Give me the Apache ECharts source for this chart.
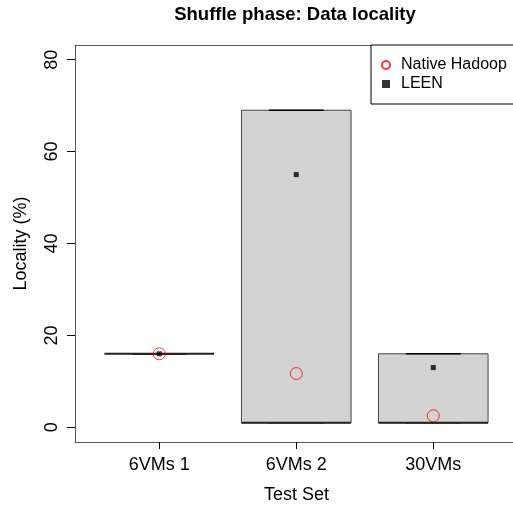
<!DOCTYPE html>
<html>
<head>
<meta charset="utf-8">
<script src="https://cdn.jsdelivr.net/npm/echarts@6/dist/echarts.min.js"></script>
<style>html,body{margin:0;padding:0;background:#fff}#c{width:513px;height:509px}</style>
</head>
<body>
<div id="c"></div>
<script>
var categories = ['6VMs 1', '6VMs 2', '30VMs'];
var boxLow = [16, 1, 1];
var boxHigh = [16, 69, 16];
var boxMedian = [16, 1, 1];
var nativeHadoop = [16, 11.7, 2.5];
var leen = [16, 55, 13];
var yTicks = [0, 20, 40, 60, 80];
var xTicks = [1, 2, 3];

var chart = echarts.init(document.getElementById('c'), null, {renderer: 'canvas'});
var FONT = 'Liberation Sans, Arial, sans-serif';
var FRAME = {show: true, onZero: false, lineStyle: {color: '#555', width: 1}};

var boxData = categories.map(function (c, i) { return [i + 1, boxLow[i], boxHigh[i], boxMedian[i]]; });

chart.setOption({
  animation: false,
  backgroundColor: '#fff',
  title: {
    text: 'Shuffle phase: Data locality',
    left: 290, top: 0, textAlign: 'center',
    textStyle: {fontFamily: FONT, fontSize: 18.5, fontWeight: 'bold', color: '#000'}
  },
  legend: {
    orient: 'vertical', left: 371, top: 45,
    padding: [12, 40, 12, 10], itemGap: 3,
    itemWidth: 8, itemHeight: 8,
    borderColor: '#000', borderWidth: 1, backgroundColor: '#fff',
    textStyle: {fontFamily: FONT, fontSize: 16, color: '#000', padding: [0, 0, 0, 6]},
    data: [{name: 'Native Hadoop', icon: 'circle'}, {name: 'LEEN', icon: 'rect'}]
  },
  grid: {left: 75, top: 45, right: 0, bottom: 67, show: false},
  xAxis: [{
    type: 'value', min: 0.385, max: 3.582, position: 'bottom',
    name: 'Test Set', nameLocation: 'middle', nameGap: 44,
    nameTextStyle: {fontFamily: FONT, fontSize: 18, color: '#000', padding: [0, 0, 0, 5]},
    splitLine: {show: false},
    axisLine: FRAME,
    axisTick: {show: true, length: 7, lineStyle: {color: '#000'}, customValues: xTicks},
    axisLabel: {
      fontFamily: FONT, fontSize: 18, color: '#000', margin: 14, customValues: xTicks,
      formatter: function (v) { return categories[Math.round(v) - 1] || ''; }
    }
  }, {
    type: 'value', min: 0.385, max: 3.582, position: 'top',
    splitLine: {show: false}, axisLine: FRAME, axisTick: {show: false}, axisLabel: {show: false}
  }],
  yAxis: {
    type: 'value', min: -3.2, max: 83.2,
    name: 'Locality (%)', nameLocation: 'middle', nameGap: 45, nameRotate: 90,
    nameTextStyle: {fontFamily: FONT, fontSize: 18, color: '#000'},
    splitLine: {show: false},
    axisLine: FRAME,
    axisTick: {show: true, length: 8, lineStyle: {color: '#000'}, customValues: yTicks},
    axisLabel: {fontFamily: FONT, fontSize: 18, color: '#000', rotate: 90, margin: 14, customValues: yTicks}
  },
  series: [
    {
      type: 'custom', name: 'box', silent: true,
      encode: {x: 0, y: [1, 2]},
      data: boxData,
      renderItem: function (params, api) {
        var x = api.value(0), lo = api.value(1), hi = api.value(2), med = api.value(3);
        var pLo = api.coord([x, lo]), pHi = api.coord([x, hi]), pMed = api.coord([x, med]);
        var hw = api.size([0.4, 0])[0];
        var sw = api.size([0.2, 0])[0];
        var children = [];
        if (hi > lo) {
          children.push({type: 'rect', shape: {x: pLo[0] - hw, y: pHi[1], width: 2 * hw, height: pLo[1] - pHi[1]},
            style: {fill: '#d3d3d3', stroke: '#444', lineWidth: 1}});
        }
        children.push({type: 'line', shape: {x1: pLo[0] - sw, y1: pHi[1], x2: pLo[0] + sw, y2: pHi[1]}, style: {stroke: '#000', lineWidth: 1.5}});
        children.push({type: 'line', shape: {x1: pLo[0] - sw, y1: pLo[1], x2: pLo[0] + sw, y2: pLo[1]}, style: {stroke: '#000', lineWidth: 1.5}});
        children.push({type: 'line', shape: {x1: pLo[0] - hw, y1: pMed[1], x2: pLo[0] + hw, y2: pMed[1]}, style: {stroke: '#222', lineWidth: 2}});
        return {type: 'group', children: children};
      }
    },
    {
      type: 'scatter', name: 'Native Hadoop', symbol: 'circle', symbolSize: 12, z: 3,
      itemStyle: {color: 'rgba(0,0,0,0)', borderColor: '#ff0000', borderWidth: 1},
      data: nativeHadoop.map(function (v, i) { return [i + 1, v]; })
    },
    {
      type: 'scatter', name: 'LEEN', symbol: 'rect', symbolSize: 5, z: 4,
      itemStyle: {color: '#000'},
      data: leen.map(function (v, i) { return [i + 1, v]; })
    }
  ]
});
</script>
</body>
</html>
